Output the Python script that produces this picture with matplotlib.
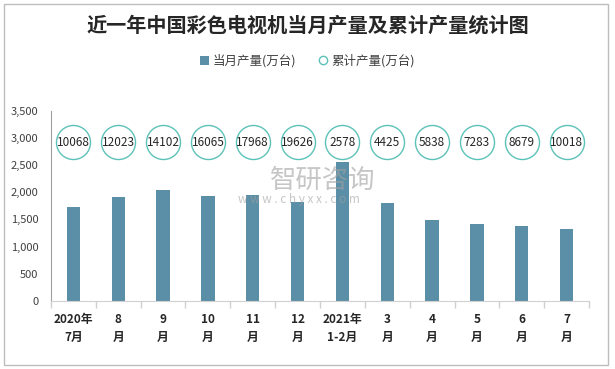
import matplotlib

matplotlib.use("Agg")
import matplotlib.pyplot as plt
from matplotlib.lines import Line2D
from matplotlib.patches import Patch, Rectangle

plt.rcParams["font.family"] = ["Noto Sans CJK SC", "DejaVu Sans"]

# data
months = ["2020年\n7月", "8\n月", "9\n月", "10\n月", "11\n月", "12\n月",
          "2021年\n1-2月", "3\n月", "4\n月", "5\n月", "6\n月", "7\n月"]
monthly = [1729, 1913, 2042, 1932, 1950, 1821, 2559, 1803, 1489, 1415, 1378, 1323]
cumulative = [10068, 12023, 14102, 16065, 17968, 19626, 2578, 4425, 5838, 7283, 8679, 10018]
LABEL_ROW = 2920  # circles sit on a flat helper row

BAR_C = "#5b8fa7"
RING_C = "#5cc2b8"

fig = plt.figure(figsize=(6.15, 3.69), dpi=100)
ax = fig.add_axes([51 / 615, 1 - 300.7 / 369, 538 / 615, 189.7 / 369])

x = list(range(len(months)))
ax.bar(x, monthly, width=0.3, color=BAR_C, zorder=2)
ax.plot(x, [LABEL_ROW] * len(x), ls="none", marker="o", ms=24.5,
        mfc="white", mec=RING_C, mew=1.0, zorder=3)
for xi, v in zip(x, cumulative):
    ax.text(xi, LABEL_ROW, str(v), ha="center", va="center",
            fontsize=8.5, color="#262626", zorder=4)

ax.set_xlim(-0.5, len(x) - 0.5)
ax.set_ylim(0, 3500)
ax.set_yticks(range(0, 3501, 500))
ax.set_yticklabels([f"{v:,}" for v in range(0, 3501, 500)], fontsize=8, color="#404040")
ax.tick_params(axis="y", length=0, pad=9)

ax.set_xticks(x)
ax.set_xticklabels(months, fontsize=8.5, fontweight="bold", color="#262626", linespacing=1.5)
ax.set_xticks([i - 0.5 for i in range(len(x) + 1)], minor=True)
ax.tick_params(axis="x", which="major", length=0, pad=9)
ax.tick_params(axis="x", which="minor", length=5, color="#d0d0d0", width=1)

for s in ("top", "right"):
    ax.spines[s].set_visible(False)
ax.spines["left"].set_color("#a0a0a0")
ax.spines["bottom"].set_color("#d0d0d0")

fig.text(0.5, 1 - 25 / 369, "近一年中国彩色电视机当月产量及累计产量统计图",
         ha="center", va="center", fontsize=14.5, fontweight="bold", color="#262626")

handles = [Patch(facecolor=BAR_C, label="当月产量(万台)"),
           Line2D([], [], ls="none", marker="o", ms=6, mfc="white", mec=RING_C,
                  label="累计产量(万台)")]
fig.legend(handles=handles, loc="center", bbox_to_anchor=(0.5, 1 - 61 / 369), ncol=2,
           frameon=False, fontsize=9, handlelength=0.7, handleheight=0.7,
           handletextpad=0.3, columnspacing=1.8, labelcolor="#404040")

# watermark
fig.text(270 / 615, 1 - 180 / 369, "智研咨询", ha="left", va="center",
         fontsize=19, color="#a0a0a0", alpha=0.6)
fig.text(238 / 615, 1 - 199 / 369, "w w w . c h y x x . c o m", ha="left", va="center",
         fontsize=8.5, color="#a0a0a0", alpha=0.6)

fig.patches.append(Rectangle((4 / 615, 4 / 369), 604 / 615, 361 / 369,
                             transform=fig.transFigure, fill=False,
                             edgecolor="#bdbdbd", lw=1))

fig.savefig("out.png", dpi=100)
